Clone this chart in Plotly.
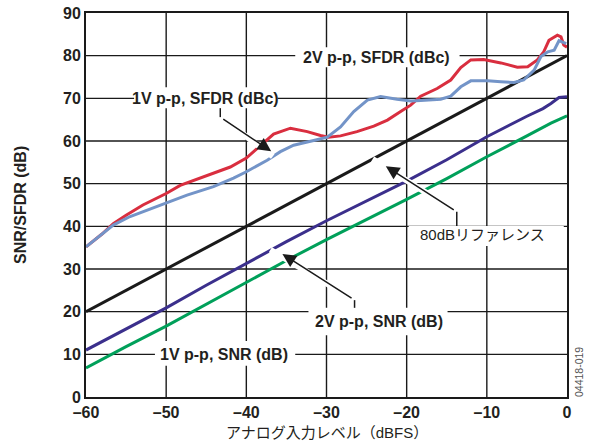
import plotly.graph_objects as go

# ---- data (input level in dBFS) ----
ref_x = [-60, 0]
ref_y = [20, 80]

snr_1v_x = [-60, -55, -50, -45, -40, -35, -30, -25, -20, -15, -10, -5, -2, 0]
snr_1v_y = [6.8, 11.8, 16.6, 21.8, 27.0, 32.0, 36.9, 41.6, 46.3, 51.2, 56.3, 61.2, 64.2, 65.9]

snr_2v_x = [-60, -55, -50, -45, -40, -35, -30, -25, -20, -15, -10, -5, -3, -2, -1, 0]
snr_2v_y = [11.0, 16.0, 20.9, 26.2, 31.4, 36.4, 41.3, 46.0, 50.6, 55.6, 61.0, 65.8, 67.6, 68.8, 70.2, 70.4]

sfdr_2v_x = [-60, -58, -56.6, -55, -52.9, -50, -48.25, -46, -44.1, -42, -40, -38.25, -36.6,
             -34.5, -32.4, -30.75, -29.75, -28.25, -26.2, -24.1, -22.4, -20.75, -19.5, -18.25,
             -16.2, -14.5, -13.25, -12, -10.4, -8.25, -6.2, -4.9, -3.7, -2.9, -2.25, -1.2,
             -0.75, -0.4, 0]
sfdr_2v_y = [35.2, 38.2, 40.6, 42.6, 45.0, 47.7, 49.6, 51.2, 52.5, 53.9, 56.0, 59.0, 61.6,
             63.0, 62.2, 61.3, 60.9, 61.2, 62.2, 63.5, 64.9, 66.9, 68.4, 70.5,
             72.3, 74.3, 77.2, 79.0, 79.1, 78.3, 77.3, 77.4, 79.0, 80.9, 83.6, 84.8,
             84.4, 82.5, 82.0]

sfdr_1v_x = [-60, -58, -56.6, -54.5, -52.4, -50, -47.4, -44.1, -41.6, -40, -37.4, -35.75,
             -34.1, -31.6, -29.9, -28.25, -26.6, -24.9, -23.25, -21.2, -19.5, -18.25, -15.75,
             -14.5, -13.25, -12, -9.9, -8.25, -6.6, -5.4, -4.1, -3.25, -2.4, -1.6, -1.0, -0.1]
sfdr_1v_y = [35.2, 38.2, 40.3, 42.3, 43.8, 45.4, 47.3, 49.3, 51.3, 52.8, 55.5, 57.5,
             59.0, 60.1, 60.9, 63.3, 66.9, 69.6, 70.4, 69.8, 69.4, 69.5, 69.8,
             70.5, 72.7, 74.1, 74.1, 73.9, 73.7, 74.3, 76.6, 79.8, 80.9, 81.3, 83.5, 82.8]

x_ticks = [-60, -50, -40, -30, -20, -10, 0]
x_tick_text = ["\u201360", "\u201350", "\u201340", "\u201330", "\u201320", "\u201310", "0"]
y_ticks = [0, 10, 20, 30, 40, 50, 60, 70, 80, 90]

FONT = "Liberation Sans, Arial, Noto Sans CJK JP, sans-serif"
JP_FONT = "Liberation Sans, Noto Sans CJK JP, sans-serif"
INK = "#1a1a1a"
X0, X1 = x_ticks[0], x_ticks[-1]
Y0, Y1 = y_ticks[0], y_ticks[-1]

fig = go.Figure()

# ---- measured curves ----
series = [
    (ref_x, ref_y, INK, "80dB reference"),
    (snr_1v_x, snr_1v_y, "#00a05a", "1V p-p SNR"),
    (snr_2v_x, snr_2v_y, "#3b2f8c", "2V p-p SNR"),
    (sfdr_2v_x, sfdr_2v_y, "#d92e3f", "2V p-p SFDR"),
    (sfdr_1v_x, sfdr_1v_y, "#7394c8", "1V p-p SFDR"),
]
for xs, ys, col, name in series:
    fig.add_trace(go.Scatter(x=xs, y=ys, mode="lines", name=name,
                             line=dict(color=col, width=3), showlegend=False))

# ---- grid and label boxes, drawn as shapes in the layer under the traces ----
shapes = []
for gx in x_ticks[1:-1]:
    shapes.append(dict(type="line", xref="x", yref="y", x0=gx, x1=gx, y0=Y0, y1=Y1,
                       line=dict(color=INK, width=1.4), layer="below"))
for gy in y_ticks[1:-1]:
    shapes.append(dict(type="line", xref="x", yref="y", x0=X0, x1=X1, y0=gy, y1=gy,
                       line=dict(color=INK, width=1.4), layer="below"))

boxes = [
    (-54.0, -36.1, 67.7, 72.6),
    (-33.9, -13.4, 77.3, 82.0),
    (-19.75, -0.4, 35.4, 40.1),
    (-32.25, -14.9, 14.5, 20.9),
    (-51.4, -33.9, 7.3, 13.1),
]
for x0, x1, y0, y1 in boxes:
    shapes.append(dict(type="rect", xref="x", yref="y", x0=x0, x1=x1, y0=y0, y1=y1,
                       fillcolor="white", line=dict(width=0), layer="below"))

# short vertical leader segments between labels and arrows
leaders = [
    (-43.25, 67.7, 65.6),
    (-13.75, 40.1, 43.4),
    (-26.5, 20.9, 22.7),
]
for lx, y0, y1 in leaders:
    shapes.append(dict(type="line", xref="x", yref="y", x0=lx, x1=lx, y0=y0, y1=y1,
                       line=dict(color=INK, width=1.5), layer="above"))

annotations = []

# arrows: white halo first, black arrow on top
arrows = [
    # tail x, tail y, halo end x, halo end y, tip x, tip y
    (-43.25, 65.6, -36.7, 56.4, -36.9, 57.6),
    (-13.75, 43.4, -24.25, 55.75, -22.6, 54.1),
    (-26.5, 22.7, -37.0, 34.5, -35.5, 33.5),
]
for tx, ty, hx, hy, px, py in arrows:
    annotations.append(dict(x=hx, y=hy, ax=tx, ay=ty, xref="x", yref="y", axref="x", ayref="y",
                            text=" ", showarrow=True, arrowhead=0, arrowwidth=6,
                            arrowcolor="white"))
for tx, ty, hx, hy, px, py in arrows:
    annotations.append(dict(x=px, y=py, ax=tx, ay=ty, xref="x", yref="y", axref="x", ayref="y",
                            text=" ", showarrow=True, arrowhead=2, arrowsize=1.8, arrowwidth=1.5,
                            arrowcolor=INK))

labels = [
    ("1V p-p, SFDR (dBc)", -45.06, 70.0, True, 16),
    ("2V p-p, SFDR (dBc)", -23.75, 79.6, True, 16),
    ("80dB\u30ea\u30d5\u30a1\u30ec\u30f3\u30b9", -10.6, 38.2, False, 15),
    ("2V p-p, SNR (dB)", -23.5, 17.6, True, 16),
    ("1V p-p, SNR (dB)", -42.75, 9.85, True, 16),
]
for txt, lx, ly, bold, size in labels:
    annotations.append(dict(x=lx, y=ly, xref="x", yref="y", text=txt, showarrow=False,
                            xanchor="center", yanchor="middle",
                            font=dict(family=JP_FONT, size=size, color="#231f20",
                                      weight=700 if bold else 400)))

# axis titles and figure code
annotations.append(dict(x=0, y=0.5, xref="paper", yref="paper", xshift=-66,
                        xanchor="center", yanchor="middle",
                        text="SNR/SFDR (dB)", textangle=-90, showarrow=False,
                        font=dict(family=FONT, size=16, color="#231f20", weight=700)))
annotations.append(dict(x=0.5, y=0, xref="paper", yref="paper", yshift=-35,
                        xanchor="center", yanchor="middle",
                        text="\u30a2\u30ca\u30ed\u30b0\u5165\u529b\u30ec\u30d9\u30eb\uff08dBFS\uff09",
                        showarrow=False,
                        font=dict(family=JP_FONT, size=15, color="#231f20")))
annotations.append(dict(x=1, y=0, xref="paper", yref="paper", xshift=12, yshift=25,
                        xanchor="center", yanchor="middle",
                        text="04418-019", textangle=-90, showarrow=False,
                        font=dict(family=FONT, size=10.5, color="#555555")))

fig.update_layout(
    width=594, height=442,
    margin=dict(l=86, r=27, t=13, b=45),
    template="none",
    paper_bgcolor="white", plot_bgcolor="white",
    shapes=shapes, annotations=annotations,
    font=dict(family=FONT, color="#231f20"),
    hovermode=False,
)
fig.update_xaxes(range=[X0, X1], tickvals=x_ticks, ticktext=x_tick_text,
                 showgrid=False, showline=True, linecolor=INK, linewidth=2, mirror=True,
                 ticks="", zeroline=False,
                 tickfont=dict(family=FONT, size=16, color="#231f20", weight=700))
fig.update_yaxes(range=[Y0, Y1], tickvals=y_ticks,
                 showgrid=False, showline=True, linecolor=INK, linewidth=2, mirror=True,
                 ticks="", zeroline=False,
                 tickfont=dict(family=FONT, size=16, color="#231f20", weight=700))

fig.write_html("out.html")
